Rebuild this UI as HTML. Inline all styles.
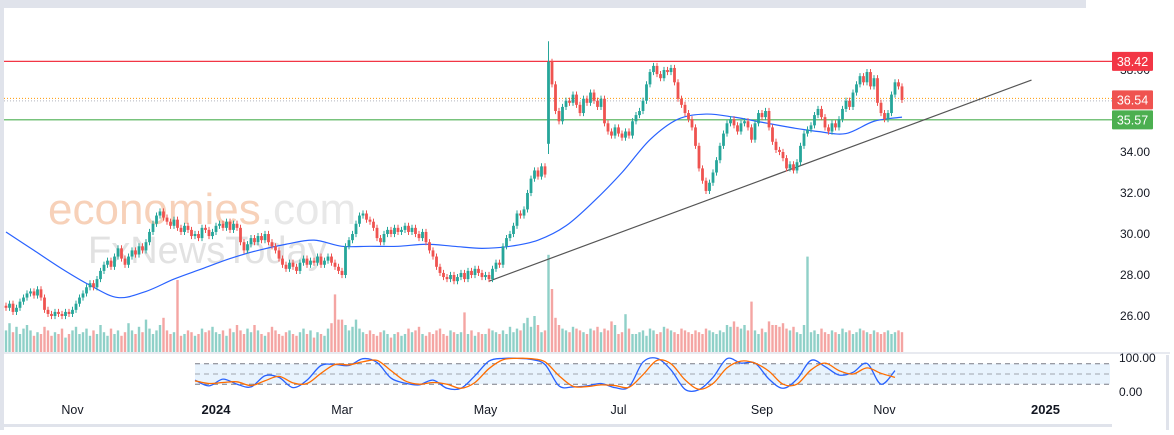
<!DOCTYPE html>
<html><head><meta charset="utf-8"><style>
html,body{margin:0;padding:0;background:#fff;}
body{width:1174px;height:430px;overflow:hidden;font-family:"Liberation Sans",sans-serif;}
svg text{font-family:"Liberation Sans",sans-serif;}
</style></head><body>
<svg id="chart" width="1174" height="430" viewBox="0 0 1174 430" xmlns="http://www.w3.org/2000/svg">
<rect x="0" y="0" width="1174" height="430" fill="#fff"/>
<rect x="0" y="0" width="1086" height="8" fill="#e0e3eb"/>
<rect x="0" y="0" width="4" height="430" fill="#e0e3eb"/>
<rect x="0" y="424" width="1112" height="3" fill="#e0e3eb"/>
<rect x="1166" y="355" width="3" height="75" fill="#e0e3eb"/>
<g>
<text x="48" y="224" font-size="44" fill="#f6c9ad" opacity="0.85">economies<tspan fill="#e4e4e4">.com</tspan></text>
<text x="88" y="263" font-size="38" fill="#e2e2e2">FxNewsToday</text>
</g>
<g id="layer"></g>
</svg>
<script>
const closes = [
26.4,26.6,26.2,26.4,26.7,26.9,27.1,27.2,27.0,27.3,26.9,26.3,26.1,
26.0,26.2,26.1,26.0,26.2,26.1,26.3,26.6,
26.9,27.1,27.4,27.6,27.4,27.8,28.2,28.5,
28.7,28.4,28.9,29.3,28.8,28.5,28.9,29.2,29.0,29.4,
29.2,29.6,30.1,30.5,30.9,31.1,30.8,30.6,30.4,30.7,30.3,30.1,
30.4,30.2,29.9,30.0,29.8,30.3,30.2,29.9,30.1,30.4,30.5,30.3,30.6,30.2,30.5,30.3,
29.6,29.2,29.5,29.8,29.6,29.9,29.7,30.0,29.6,29.4,29.2,
28.8,28.5,28.3,28.6,28.4,28.2,28.6,28.8,28.5,28.7,28.6,28.9,28.5,28.7,
28.9,28.6,28.4,28.2,28.0,
29.4,29.7,30.0,30.5,30.9,31.0,30.7,
30.6,30.3,29.8,29.6,30.0,30.2,
30.0,30.3,30.1,30.2,30.4,30.1,30.3,30.0,
29.8,30.1,29.6,29.2,28.9,
28.4,28.1,27.9,27.8,28.0,27.7,27.9,28.1,27.8,
28.2,28.0,28.3,28.1,27.9,28.0,27.8,
28.3,28.6,28.5,29.4,29.8,
30.0,30.4,31.0,30.9,31.2,
32.0,32.7,33.1,32.8,
33.3,32.9,
38.4,
37.3,36.0,35.5,36.2,36.5,36.4,36.8,36.3,35.9,36.6,36.4,36.9,36.5,36.2,36.6,
35.4,35.0,34.8,35.2,34.9,34.7,35.0,34.8,
35.5,35.8,36.0,36.5,37.3,
37.9,38.2,37.8,37.6,38.0,37.9,38.1,
37.4,36.6,36.3,35.9,35.6,35.2,
34.3,33.2,32.6,32.1,32.5,
33.0,33.6,34.3,34.9,35.4,
35.6,35.3,35.0,35.4,35.5,35.2,
34.6,35.4,35.9,35.7,36.0,
35.2,34.5,34.1,34.0,33.7,
33.2,33.4,33.1,33.5,34.3,
34.9,35.1,35.3,35.8,36.1,35.7,
35.2,35.0,35.4,35.2,
35.6,36.1,36.5,36.2,36.9,37.3,
37.7,37.4,37.9,37.2,37.6,
36.4,35.9,35.6,35.9,
36.8,37.4,37.2,36.54];
const volumes = [
1.2,1.6,1.1,1.4,1.0,1.3,1.5,1.2,0.9,1.1,
1.0,1.4,1.2,0.9,1.1,1.0,1.3,0.8,1.0,1.2,
1.4,1.0,1.1,1.3,0.9,1.2,1.0,1.5,1.1,0.9,
1.3,1.0,1.2,0.9,1.1,1.6,1.2,1.0,1.4,1.1,
1.8,1.3,1.0,1.2,1.5,1.9,1.2,1.0,1.1,4.0,
0.9,1.0,1.2,1.1,0.9,1.0,1.3,1.1,1.2,1.4,
1.1,1.0,1.2,0.9,1.3,1.1,1.5,1.2,1.0,1.3,
1.1,1.5,1.2,1.0,0.9,1.1,1.4,1.2,1.0,0.9,
1.1,1.2,1.0,0.9,1.1,1.3,1.0,1.2,0.8,1.1,
1.0,0.9,1.3,1.6,3.2,1.8,1.8,1.5,1.2,1.4,
1.8,1.3,1.1,1.0,1.2,1.0,0.9,1.1,1.2,1.0,
0.8,1.0,1.1,0.9,1.0,1.3,1.1,1.2,1.4,1.0,
0.9,1.1,1.0,1.2,1.3,1.0,0.9,1.2,1.1,1.0,
1.1,2.2,1.0,1.2,0.9,1.1,1.0,1.0,1.3,1.2,
1.1,1.0,1.2,1.0,1.4,1.1,1.3,1.2,1.6,1.9,
1.4,2.0,1.5,1.1,1.2,5.4,3.5,1.9,1.5,1.3,
1.2,1.1,1.4,1.3,1.2,1.1,1.0,1.3,1.2,1.4,
1.1,1.3,1.2,1.7,1.5,1.0,1.1,2.1,1.3,1.0,
1.0,1.1,1.2,0.9,1.3,1.2,1.0,1.1,1.4,1.3,
1.2,1.1,1.0,1.3,1.2,1.1,1.0,1.2,1.1,1.0,
1.3,1.2,1.1,1.0,1.2,1.1,1.5,1.4,1.7,1.4,
1.3,1.5,1.2,2.8,1.2,1.0,1.3,1.1,1.7,1.5,
1.5,1.4,1.6,1.3,1.2,1.4,1.1,1.0,1.5,5.3,
1.1,1.2,1.0,1.3,1.1,1.0,1.2,1.1,1.0,1.3,
1.1,1.2,1.0,1.1,1.3,1.2,1.1,1.0,1.2,1.1,
1.0,1.1,1.2,1.0,1.1,1.2,1.1];
const maValues = [30.1,29.2,28.3,27.5,26.9,27.2,27.8,28.3,28.8,29.2,29.5,29.7,29.4,29.4,29.4,29.5,29.4,29.3,29.4,29.7,30.4,31.6,33.0,34.6,35.6,35.85,35.7,35.45,35.2,35.0,34.9,35.5,35.7];
const stochK = [32,15,35,20,12,45,40,10,32,75,78,75,95,84,38,23,18,32,8,8,45,88,96,96,93,78,15,12,15,22,10,12,85,96,62,5,4,40,95,82,82,35,8,35,90,72,47,55,81,20,60];
const stochD = [30,22,25,27,16,30,43,24,22,52,78,77,86,90,60,30,20,25,20,8,25,66,92,96,95,86,45,14,13,18,16,11,48,90,80,33,5,22,68,88,82,58,20,20,62,82,60,50,68,52,40];
const priceTicks = ["38.00","34.00","32.00","30.00","28.00","26.00"];
const stochTicks = ["100.00","0.00"];
const timeLabels = ["Nov","2024","Mar","May","Jul","Sep","Nov","2025"];
const timeIdx = [19,60,96,137,175,216,251,297];
const levels = [38.42,35.57];
const lastPrice = 36.54;
const trend = [[138,27.7],[293,37.51]];

const NS="http://www.w3.org/2000/svg";
const layer=document.getElementById('layer');
const X=i=>6+3.5*i;
const Y=p=>152-(p-34)*20.5;
const VY=v=>352-v*18;
const SY=v=>391-v*0.34;
const UP="#26a69a",DN="#ef5350";
function mk(tag,attrs,parent){const e=document.createElementNS(NS,tag);for(const k in attrs)e.setAttribute(k,attrs[k]);(parent||layer).appendChild(e);return e;}
function smooth(p){let d="M"+p[0][0]+","+p[0][1];for(let i=0;i<p.length-1;i++){const p0=p[i-1]||p[i],p1=p[i],p2=p[i+1],p3=p[i+2]||p2;
 d+=" C"+(p1[0]+(p2[0]-p0[0])/6)+","+(p1[1]+(p2[1]-p0[1])/6)+" "+(p2[0]-(p3[0]-p1[0])/6)+","+(p2[1]-(p3[1]-p1[1])/6)+" "+p2[0]+","+p2[1];}return d;}

let sep=mk('line',{x1:4,y1:353,x2:1170,y2:353,stroke:"#e0e3eb","stroke-width":1.5});



const gv=mk('g',{});


volumes.forEach((v,i)=>{const o=i>0?closes[i-1]:closes[0];const up=closes[i]>=o;
 const r=mk('rect',{x:X(i)-1.2,y:VY(v),width:2.4,height:352-VY(v),fill:up?"#8fd0c8":"#f4a5a3"},gv);
 
 });

levels.forEach((l,k)=>{const ln=mk('line',{x1:4,y1:Y(l),x2:1112,y2:Y(l),stroke:k==0?"#f23645":"#4caf50","stroke-width":1.2});
 
 });
let d1=mk('line',{x1:4,y1:Y(lastPrice)-1.5,x2:1112,y2:Y(lastPrice)-1.5,stroke:"#ff9800","stroke-width":1,"stroke-dasharray":"1,2"});


let d2=mk('line',{x1:4,y1:Y(lastPrice)+1,x2:1112,y2:Y(lastPrice)+1,stroke:"#b2b5be","stroke-width":1,"stroke-dasharray":"1,2"});



let ma=mk('path',{d:smooth(maValues.map((v,k)=>[X(k*8),Y(v)])),fill:"none",stroke:"#2962ff","stroke-width":1.2});



let tl=mk('line',{x1:X(trend[0][0]),y1:Y(trend[0][1]),x2:X(trend[1][0]),y2:Y(trend[1][1]),stroke:"#555","stroke-width":1.2});



const gc=mk('g',{});


closes.forEach((c,i)=>{let o=i>0?closes[i-1]:c+0.1;if(c-o>3)o=34.4;const up=c>=o;const col=up?UP:DN;
 let hi=Math.max(o,c)+0.15,lo=Math.min(o,c)-0.15;if(c-o>3){hi=39.4;lo=33.9;}
 const g=mk('g',{},gc);
 
 
 mk('line',{x1:X(i),x2:X(i),y1:Y(hi),y2:Y(lo),stroke:col,"stroke-width":1},g);
 const top=Y(Math.max(o,c)),h=Math.max(1,Y(Math.min(o,c))-top);
 mk('rect',{x:X(i)-1.4,y:top,width:2.8,height:h,fill:col},g);});

const gs=mk('g',{});


mk('rect',{x:195,y:SY(80),width:915,height:SY(20)-SY(80),fill:"#e8f3fd"},gs);
[80,50,20].forEach(v=>{const l=mk('line',{x1:195,x2:1110,y1:SY(v),y2:SY(v),stroke:v==50?"#a0a4ad":"#787b86","stroke-width":1,"stroke-dasharray":"5,4"},gs);
 
 });
let kl=mk('path',{d:smooth(stochK.map((v,k)=>[X(54+4*k),SY(v)])),fill:"none",stroke:"#2962ff","stroke-width":1.3},gs);


let dl=mk('path',{d:smooth(stochD.map((v,k)=>[X(54+4*k),SY(v)])),fill:"none",stroke:"#ff6d00","stroke-width":1.3},gs);



const pv=[38,34,32,30,28,26];
priceTicks.forEach((t,k)=>{const tx=mk('text',{x:1120,y:Y(pv[k])+4,"font-size":12,fill:"#131722"});tx.textContent=t;
 
 });
[100,0].forEach((v,k)=>{const tx=mk('text',{x:1119,y:SY(v)+5,"font-size":12,fill:"#131722"});tx.textContent=stochTicks[k];
 
 });
timeLabels.forEach((t,k)=>{const bold=/^\d/.test(t);const tx=mk('text',{x:X(timeIdx[k]),y:414,"font-size":bold?13:12.5,"font-weight":bold?"bold":"normal",fill:"#131722","text-anchor":"middle"});tx.textContent=t;
 
 });

function box(p,col,name){const g=mk('g',{});
 
 
 mk('rect',{x:1112,y:Y(p)-9.5,width:41,height:19,fill:col,rx:1},g);
 const t=mk('text',{x:1132.5,y:Y(p)+4.5,"font-size":12.5,fill:"#fff","text-anchor":"middle"},g);t.textContent=p.toFixed(2);}
box(levels[0],"#f23645","resistance-price-label");
box(lastPrice,"#ef5350","last-price-label");
box(levels[1],"#4caf50","support-price-label");
</script>
</body></html>
